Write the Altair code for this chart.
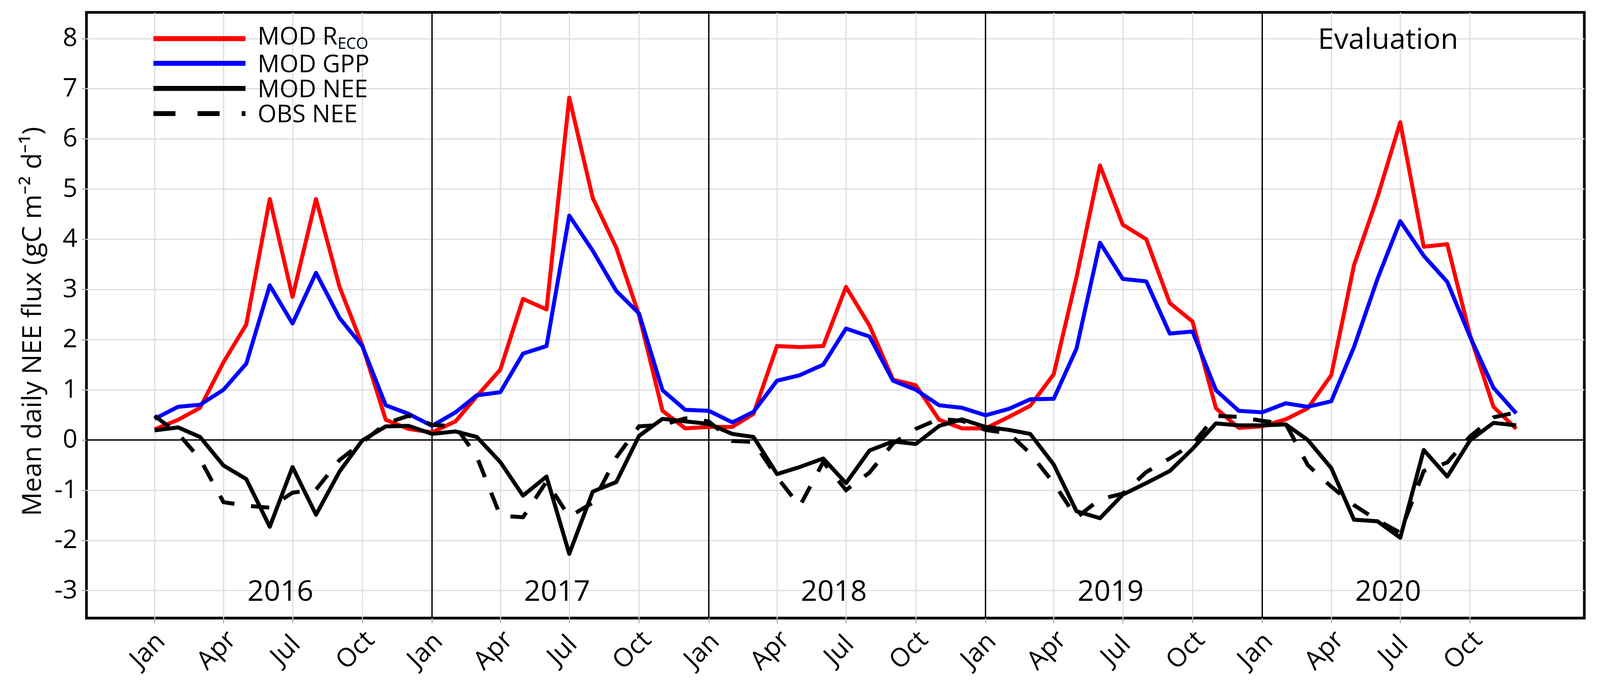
import altair as alt
import pandas as pd

# ---------------- data ----------------
months = [d.strftime("%Y-%m-%d") for d in pd.date_range("2016-01-01", "2020-12-01", freq="MS")]

reco = [0.21, 0.40, 0.64, 1.55, 2.30, 4.80, 2.85, 4.80, 3.05, 1.89, 0.40, 0.22,
        0.15, 0.37, 0.87, 1.40, 2.81, 2.60, 6.82, 4.82, 3.83, 2.49, 0.58, 0.23,
        0.26, 0.26, 0.52, 1.87, 1.85, 1.87, 3.05, 2.28, 1.20, 1.09, 0.40, 0.23,
        0.23, 0.46, 0.68, 1.31, 3.24, 5.47, 4.29, 4.00, 2.73, 2.36, 0.63, 0.24,
        0.27, 0.41, 0.63, 1.29, 3.48, 4.84, 6.33, 3.85, 3.90, 2.09, 0.66, 0.22]

gpp = [0.42, 0.66, 0.70, 1.00, 1.52, 3.08, 2.32, 3.33, 2.43, 1.87, 0.69, 0.52,
       0.28, 0.55, 0.89, 0.95, 1.72, 1.87, 4.47, 3.77, 2.97, 2.52, 0.99, 0.60,
       0.58, 0.35, 0.56, 1.18, 1.29, 1.50, 2.22, 2.06, 1.18, 1.00, 0.69, 0.64,
       0.49, 0.62, 0.81, 0.82, 1.82, 3.93, 3.21, 3.16, 2.12, 2.16, 0.99, 0.58,
       0.55, 0.73, 0.66, 0.77, 1.85, 3.21, 4.36, 3.67, 3.15, 2.06, 1.04, 0.53]

mod_nee = [0.19, 0.25, 0.06, -0.51, -0.78, -1.73, -0.54, -1.49, -0.63, -0.01, 0.27, 0.28,
           0.12, 0.17, 0.06, -0.44, -1.11, -0.73, -2.27, -1.03, -0.84, 0.08, 0.42, 0.37,
           0.32, 0.12, 0.06, -0.68, -0.54, -0.37, -0.86, -0.21, -0.03, -0.08, 0.28, 0.41,
           0.26, 0.20, 0.12, -0.49, -1.42, -1.56, -1.09, -0.86, -0.62, -0.18, 0.33, 0.29,
           0.29, 0.31, 0.00, -0.56, -1.59, -1.62, -1.95, -0.20, -0.73, -0.01, 0.34, 0.29]

obs_nee = [0.48, 0.13, -0.38, -1.24, -1.31, -1.35, -1.05, -0.99, -0.40, -0.05, 0.33, 0.48,
           0.30, 0.27, -0.33, -1.51, -1.54, -0.83, -1.53, -1.25, -0.35, 0.27, 0.30, 0.43,
           0.37, -0.02, -0.04, -0.74, -1.32, -0.44, -1.00, -0.65, -0.07, 0.22, 0.42, 0.38,
           0.20, 0.13, -0.27, -0.86, -1.55, -1.18, -1.07, -0.64, -0.37, -0.08, 0.48, 0.46,
           0.38, 0.32, -0.50, -0.93, -1.30, -1.60, -1.85, -0.62, -0.45, 0.07, 0.45, 0.55]

year_bounds = ["2017-01-01", "2018-01-01", "2019-01-01", "2020-01-01"]
tick_dates = [f"{y}-{m:02d}-01" for y in range(2016, 2021) for m in (1, 4, 7, 10)]
y_ticks = list(range(-3, 9))

text_labels = ["2016", "2017", "2018", "2019", "2020", "Evaluation"]
text_dates = ["2016-06-15", "2017-06-15", "2018-06-15", "2019-06-15", "2020-06-15", "2020-06-15"]
text_values = [-3, -3, -3, -3, -3, 8]

legend_labels = ["MOD R", "MOD GPP", "MOD NEE", "OBS NEE"]
legend_sub = "ECO"
y_title = "Mean daily NEE flux (gC m\u207b\u00b2 d\u207b\u00b9)"

# ---------------- helpers ----------------
def ms(ts):
    return int(pd.Timestamp(ts).tz_localize("UTC").timestamp() * 1000)

first, last = pd.Timestamp(months[0]), pd.Timestamp(months[-1])
pad = (last - first) * 0.05
x_domain = [ms(first - pad), ms(last + pad)]
tick_ms = [ms(pd.Timestamp(t)) for t in tick_dates]

FONT = "Open Sans"
X = alt.X("date:T",
          scale=alt.Scale(type="utc", domain=x_domain),
          axis=alt.Axis(values=tick_ms, labelExpr="utcFormat(datum.value, '%b')",
                        labelAngle=315, labelAlign="center", labelBaseline="middle",
                        labelPadding=72, labelOffset=-18, grid=True, title=None))
Y = alt.Y("value:Q",
          scale=alt.Scale(domain=[-3.55, 8.52], nice=False, zero=False),
          axis=alt.Axis(values=y_ticks, labelExpr="toString(datum.value)", grid=True,
                        title=y_title, labelPadding=11, titleX=-105, titleY=812,
                        titleAngle=270, titleBaseline="bottom", titleAlign="center"))

def series_df(vals):
    return pd.DataFrame({"date": months, "value": vals})

LW = 10.5
lines = [
    alt.Chart(series_df(reco)).mark_line(color="#ff0000", strokeWidth=LW, strokeJoin="round").encode(x=X, y=Y),
    alt.Chart(series_df(gpp)).mark_line(color="#0000ff", strokeWidth=LW, strokeJoin="round").encode(x=X, y=Y),
    alt.Chart(series_df(mod_nee)).mark_line(color="black", strokeWidth=LW, strokeJoin="round").encode(x=X, y=Y),
    alt.Chart(series_df(obs_nee)).mark_line(color="black", strokeWidth=LW, strokeDash=[48, 44]).encode(x=X, y=Y),
]

zero_line = alt.Chart(pd.DataFrame({"value": [0]})).mark_rule(color="black", strokeWidth=3.5).encode(y=Y)
year_lines = alt.Chart(pd.DataFrame({"date": year_bounds})).mark_rule(color="black", strokeWidth=3.5).encode(x=X)

texts = alt.Chart(pd.DataFrame({"date": text_dates, "value": text_values, "label": text_labels})).mark_text(
    font=FONT, fontSize=76, align="center", baseline="alphabetic", dy=27, color="black"
).encode(x=X, y=Y, text="label:N")

# ---------------- custom legend ----------------
one = pd.DataFrame({"k": [0]})
leg_rows = [69, 134, 200, 266]
leg_colors = ["#ff0000", "#0000ff", "black", "black"]
legend_layers = []
for i, (ry, col) in enumerate(zip(leg_rows, leg_colors)):
    kw = dict(color=col, strokeWidth=13)
    if i == 3:
        kw["strokeDash"] = [58, 58]
    legend_layers.append(
        alt.Chart(one).mark_rule(**kw).encode(x=alt.value(176), x2=alt.value(418), y=alt.value(ry)))
    base_y = ry + 16 if i == 0 else ry + 23
    legend_layers.append(
        alt.Chart(one).mark_text(font=FONT, fontSize=64, align="left", baseline="alphabetic", color="black")
        .encode(x=alt.value(450), y=alt.value(base_y), text=alt.value(legend_labels[i])))
legend_layers.append(
    alt.Chart(one).mark_text(font=FONT, fontSize=41, align="left", baseline="alphabetic", color="black")
    .encode(x=alt.value(660), y=alt.value(leg_rows[0] + 27), text=alt.value(legend_sub)))

chart = alt.layer(year_lines, zero_line, *lines, texts, *legend_layers).properties(
    width=3937, height=1592,
    autosize=alt.AutoSizeParams(type="none"),
    padding={"left": 219, "top": 1, "right": 33, "bottom": 150},
).configure_view(
    stroke="black", strokeWidth=7
).configure_axis(
    gridColor="#dcdcdc", gridWidth=3, tickColor="#b0b0b0", tickWidth=3, tickSize=13,
    labelFont=FONT, labelFontSize=68, labelColor="black",
    titleFont=FONT, titleFontSize=70, titleFontWeight="normal", titleColor="black",
    domain=False,
)

chart.save("out.html", embed_options={"renderer": "svg", "actions": False})
